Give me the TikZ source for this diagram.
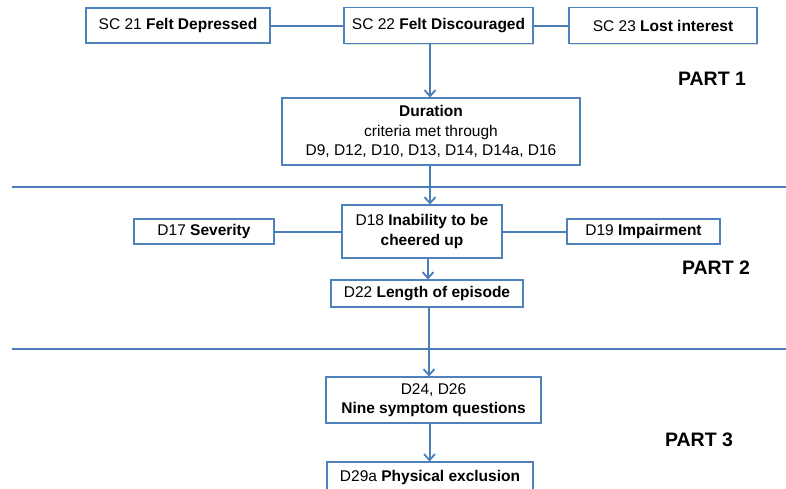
\documentclass[tikz,border=0pt]{standalone}
\usepackage{fontspec}
\setmainfont{Liberation Sans}
\usetikzlibrary{arrows.meta,shadows}
\definecolor{boxblue}{HTML}{4F81BD}
\definecolor{lineblue}{HTML}{4A7EBB}
\begin{document}
\begin{tikzpicture}[x=1pt,y=-1pt,
  fbox/.style={draw=boxblue,line width=1.2pt,fill=white,inner sep=0pt,align=center,
    font=\fontsize{15.5}{19.5}\selectfont,
    drop shadow={shadow xshift=1pt,shadow yshift=-1.2pt,opacity=0.25}},
  conn/.style={draw=lineblue,line width=2pt},
  arr/.style={conn,-{Straight Barb[length=6pt,width=11pt,line width=1.8pt]}},
  partlbl/.style={font=\fontsize{19.5}{22}\selectfont\bfseries,inner sep=0pt}]
\clip (0,0) rectangle (786,488);
\fill[white] (0,0) rectangle (786,488);
% Part 1
\node[fbox,minimum width=184,minimum height=35] (sc21) at (178,25.5) {SC 21 \textbf{Felt Depressed}};
\node[fbox,minimum width=189,minimum height=36] (sc22) at (438.5,25.5) {SC 22 \textbf{Felt Discouraged}};
\node[fbox,minimum width=188,minimum height=36] (sc23) at (663,25.5) {SC 23 \textbf{Lost interest}};
\node[partlbl] (p1) at (712,79) {PART 1};
\node[fbox,minimum width=298,minimum height=67] (dur) at (431,131.5) {\textbf{Duration}\\criteria met through\\D9, D12, D10, D13, D14, D14a, D16};
% separators
\coordinate (s1l) at (12,187);
\coordinate (s1r) at (786,187);
\coordinate (s2l) at (12,349);
\coordinate (s2r) at (786,349);
% Part 2
\node[fbox,minimum width=140,minimum height=25] (d17) at (204,231.5) {D17 \textbf{Severity}};
\node[fbox,minimum width=160,minimum height=53] (d18) at (422,231.5) {D18 \textbf{Inability to be}\\\textbf{cheered up}};
\node[fbox,minimum width=153,minimum height=25] (d19) at (643.5,231.5) {D19 \textbf{Impairment}};
\node[partlbl] (p2) at (716,268) {PART 2};
\node[fbox,minimum width=192,minimum height=27] (d22) at (427,293.5) {D22 \textbf{Length of episode}};
% Part 3
\node[fbox,minimum width=215,minimum height=46] (d24) at (433.5,400) {D24, D26\\\textbf{Nine symptom questions}};
\node[partlbl] (p3) at (699,440) {PART 3};
\node[fbox,minimum width=206,minimum height=30] (d29) at (430,477) {D29a \textbf{Physical exclusion}};
% connectors
\draw[conn] (sc21) -- (sc22);
\draw[conn] (sc22) -- (sc23);
\draw[conn] (d17) -- (d18);
\draw[conn] (d18) -- (d19);
\draw[conn] (s1l) -- (s1r);
\draw[conn] (s2l) -- (s2r);
\draw[arr] (sc22.south -| 430,0) -- (dur.north -| 430,0);
\draw[arr] (dur.south -| 430,0) -- (d18.north -| 430,0);
\draw[arr] (d18.south -| 428,0) -- (d22.north -| 428,0);
\draw[arr] (d22.south -| 429,0) -- (d24.north -| 429,0);
\draw[arr] (d24.south -| 429.5,0) -- (d29.north -| 429.5,0);
\end{tikzpicture}
\end{document}
